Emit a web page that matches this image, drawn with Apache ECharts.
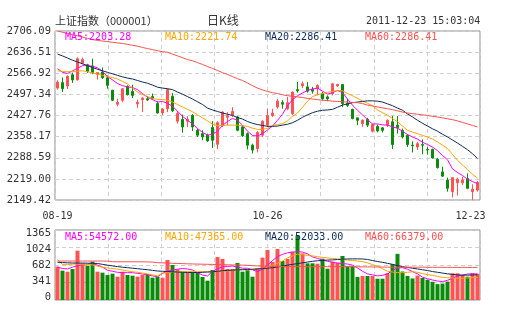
<!DOCTYPE html>
<html><head><meta charset="utf-8">
<script src="https://cdn.jsdelivr.net/npm/echarts@6/dist/echarts.min.js"></script>
<style>html,body{margin:0;padding:0;background:#fff}#c{width:505px;height:330px}</style>
</head><body><div id="c"></div>
<script>
const dates = ['08-19','08-22','08-23','08-24','08-25','08-26','08-29','08-30','08-31',
'09-01','09-02','09-05','09-06','09-07','09-08','09-09','09-13','09-14','09-15','09-16','09-19','09-20','09-21','09-22','09-23','09-26','09-27','09-28','09-29','09-30',
'10-10','10-11','10-12','10-13','10-14','10-17','10-18','10-19','10-20','10-21','10-24','10-25','10-26','10-27','10-28','10-31',
'11-01','11-02','11-03','11-04','11-07','11-08','11-09','11-10','11-11','11-14','11-15','11-16','11-17','11-18','11-21','11-22','11-23','11-24','11-25','11-28','11-29','11-30',
'12-01','12-02','12-05','12-06','12-07','12-08','12-09','12-12','12-13','12-14','12-15','12-16','12-19','12-20','12-21','12-22','12-23'];
const dateTicks = ['08-19','10-26','12-23'];
const opens  = [2518,2536,2525,2562,2545,2600,2595,2591,2563,2571,2552,2511,2465,2478,2524,2507,2466,2480,2483,2490,2467,2436,2450,2491,2409,2415,2409,2428,2379,2368,2363,2388,2333,2396,2422,2430,2423,2390,2368,2330,2319,2363,2396,2428,2456,2470,2450,2434,2513,2526,2522,2514,2516,2500,2489,2500,2525,2530,2468,2448,2420,2401,2415,2376,2392,2387,2396,2407,2396,2379,2363,2330,2324,2332,2316,2316,2284,2242,2215,2177,2206,2206,2220,2177,2182];
const closes = [2538,2516,2557,2545,2615,2612,2573,2569,2569,2552,2527,2478,2471,2516,2496,2494,2471,2485,2479,2483,2436,2449,2513,2443,2434,2390,2415,2390,2363,2357,2344,2346,2404,2439,2427,2441,2379,2361,2330,2314,2372,2409,2428,2436,2475,2465,2470,2505,2509,2532,2508,2508,2527,2483,2483,2532,2530,2467,2461,2418,2412,2412,2396,2398,2377,2379,2412,2332,2388,2357,2332,2328,2335,2330,2314,2288,2256,2228,2188,2223,2218,2215,2188,2185,2207];
const lows   = [2513,2505,2515,2535,2543,2597,2568,2564,2546,2548,2516,2475,2458,2472,2494,2485,2453,2439,2476,2480,2434,2429,2439,2439,2401,2371,2390,2377,2357,2346,2341,2321,2317,2390,2396,2423,2376,2357,2316,2303,2306,2357,2390,2423,2450,2450,2445,2429,2503,2518,2503,2500,2494,2478,2475,2494,2522,2456,2456,2415,2396,2390,2390,2372,2372,2372,2390,2317,2368,2352,2324,2306,2314,2300,2299,2286,2253,2226,2177,2158,2164,2199,2185,2149.42,2177];
const highs  = [2544,2553,2560,2569,2619,2619,2598,2615,2571,2586,2560,2512,2483,2516,2527,2529,2480,2489,2492,2500,2475,2452,2516,2502,2443,2431,2426,2432,2385,2379,2368,2409,2409,2442,2439,2455,2426,2396,2372,2335,2376,2412,2450,2450,2483,2478,2489,2507,2538,2540,2538,2522,2530,2505,2494,2535,2532,2532,2483,2450,2420,2415,2420,2401,2398,2390,2415,2426,2426,2385,2365,2343,2341,2349,2324,2319,2288,2259,2223,2225,2223,2226,2237,2201,2212];
const ma5  = [2582,2570,2566,2575,2583,2592,2592,2590,2585,2573,2556,2545,2533,2526,2522,2520,2513,2500,2488,2480,2472,2474,2468,2458,2442,2425,2412,2400,2385,2372,2363,2366,2376,2395,2408,2418,2412,2396,2376,2362,2360,2368,2380,2393,2412,2432,2460,2480,2493,2502,2510,2515,2518,2508,2498,2503,2510,2503,2482,2462,2445,2430,2414,2400,2400,2397,2396,2390,2386,2376,2365,2357,2350,2340,2332,2324,2312,2296,2282,2252,2240,2230,2218,2210,2203.28];
const ma10 = [2575,2573,2572,2572,2574,2575,2572,2568,2564,2560,2556,2553,2548,2540,2532,2518,2505,2497,2490,2484,2481,2480,2478,2472,2464,2456,2448,2440,2430,2420,2410,2399,2394,2395,2396,2396,2396,2394,2392,2386,2382,2382,2386,2395,2398,2401,2410,2425,2436,2455,2475,2490,2496,2500,2504,2507,2510,2509,2500,2493,2484,2476,2468,2460,2446,2437,2429,2418,2407,2393,2379,2373,2368,2362,2357,2350,2341,2330,2319,2300,2280,2265,2250,2234,2221.74];
const ma20 = [2630,2624,2617,2610,2604,2598,2592,2586,2580,2575,2570,2565,2560,2555,2551,2548,2543,2538,2534,2528,2521,2518,2516,2513,2505,2498,2490,2482,2473,2464,2452,2446,2441,2436,2432,2428,2421,2416,2408,2402,2398,2395,2392,2392,2393,2396,2399,2404,2412,2422,2430,2437,2442,2445,2446,2448,2455,2462,2466,2470,2472,2474,2476,2476,2475,2472,2466,2460,2452,2445,2433,2423,2412,2402,2393,2384,2376,2366,2357,2347,2337,2326,2315,2302,2286.41];
const ma60 = [2706,2702,2698,2694,2690,2686,2682,2678,2675,2673,2671,2669,2667,2665,2662,2659,2656,2652,2648,2645,2641,2638,2636,2630,2624,2618,2612,2608,2602,2596,2589,2583,2576,2569,2563,2556,2549,2543,2535,2526,2518,2512,2507,2503,2500,2496,2493,2491,2489,2487,2484,2482,2480,2478,2477,2475,2474,2473,2472,2471,2470,2467,2462,2459,2456,2453,2450,2447,2443,2439,2436,2434,2432,2430,2428,2425,2423,2420,2417,2414,2410,2405,2400,2395,2390];
const volumes = [650,572,552,604,962,715,670,748,552,533,488,513,455,552,488,474,455,488,507,435,455,435,780,682,598,540,540,540,533,449,377,585,838,800,604,604,721,552,580,455,618,826,975,745,995,760,800,940,1260,910,715,715,708,805,610,748,728,858,656,656,450,468,468,468,415,415,525,700,900,555,470,420,475,430,395,355,310,320,360,520,520,490,455,520,510];
const volMa5  = [640,615,605,640,670,685,700,715,680,640,580,560,540,533,533,533,520,507,490,470,455,520,560,585,600,615,605,585,530,487,468,560,610,645,655,663,640,620,618,590,553,600,680,770,845,890,920,935,943,935,900,840,810,780,755,735,720,710,702,680,625,560,510,490,470,480,507,580,625,630,600,555,510,445,415,390,370,358,385,420,468,485,507,510,510];
const volMa10 = [790,690,690,700,700,695,690,683,660,640,625,615,600,585,565,553,540,525,510,490,470,525,535,545,550,553,553,553,553,553,553,553,558,563,568,572,585,600,590,595,605,615,640,680,720,760,820,860,895,885,870,860,845,830,820,810,800,790,780,770,760,748,725,690,660,610,560,545,535,533,540,550,540,515,495,480,460,442,435,428,423,425,430,437,442];
const volMa20 = [735,730,725,722,720,720,718,716,712,695,680,665,650,640,630,620,610,600,590,578,565,560,555,550,545,540,538,536,535,540,545,550,560,570,578,582,586,590,595,600,605,612,620,630,645,660,680,695,710,725,740,755,765,772,778,782,790,795,800,802,802,800,790,770,750,735,715,695,670,650,635,620,605,590,575,555,540,525,510,500,490,485,485,488,490];
const volMa60 = [760,760,760,760,760,760,760,760,760,760,758,748,745,745,745,745,745,745,742,740,728,725,722,715,712,710,705,703,700,698,696,694,690,688,686,684,683,680,676,670,664,660,658,656,654,652,650,650,650,650,650,650,650,650,650,650,650,650,650,650,648,646,645,644,643,642,641,640,640,640,640,640,640,640,638,638,638,637,637,636,636,636,635,635,635];
const priceTicks = ['2706.09','2636.51','2566.92','2497.34','2427.76','2358.17','2288.59','2219.00','2149.42'];
const volTicks = ['0','341','682','1024','1365'];
const titleText = '上证指数（000001）';
const periodText = '日K线';
const timeText = '2011-12-23 15:03:04';
const mainLegend = ['MA5:2203.28','MA10:2221.74','MA20:2286.41','MA60:2286.41'];
const volLegend = ['MA5:54572.00','MA10:47365.00','MA20:52033.00','MA60:66379.00'];

const UP = '#ff5252', DOWN = '#0a8c0a';
const C5 = '#ff00ff', C10 = '#ffa500', C20 = '#0c2c58', C60 = '#ff4f4f';
const MONO = 'DejaVu Sans Mono';
const dash = {type:[4,3], color:'#cfcfcf', width:1};

const chart = echarts.init(document.getElementById('c'), null, {renderer:'canvas'});
const lineS = (name, data, color, xi, yi) => ({name, type:'line', data, xAxisIndex:xi, yAxisIndex:yi,
  symbol:'none', smooth:false, lineStyle:{color, width:1}, itemStyle:{color}, silent:true, animation:false, z:5});

const legendTexts = (arr, y) => arr.map((t, k) => ({type:'text', left: 65 + 100*k, top: y,
  style:{text:t, fill:[C5,C10,C20,C60][k], font:'10px "'+MONO+'"'}, z:20}));

chart.setOption({
  animation:false,
  backgroundColor:'#fff',
  grid:[
    {left:55, right:25, top:31, height:169, show:true, borderColor:'#8c8c8c', borderWidth:1, outerBoundsMode:'none', containLabel:false},
    {left:55, right:25, top:230, height:70, show:true, borderColor:'#8c8c8c', borderWidth:1, outerBoundsMode:'none', containLabel:false},
    {left:55, right:25, top:233, height:64, show:false, outerBoundsMode:'none', containLabel:false}
  ],
  xAxis:[
    {type:'category', gridIndex:0, data:dates, boundaryGap:true,
      axisLine:{show:false}, axisTick:{show:false}, splitLine:{show:false},
      axisLabel:{interval:(i, v) => dateTicks.includes(v), margin:11, color:'#333', fontFamily:MONO, fontSize:10,
        formatter:(v) => v === dateTicks[2] ? '{r|'+v+'}' : v,
        rich:{r:{padding:[0,14,0,0], fontFamily:MONO, fontSize:10, color:'#333'}}}},
    {type:'category', gridIndex:1, data:dates, boundaryGap:true, axisLine:{show:false}, axisTick:{show:false}, axisLabel:{show:false}},
    {type:'value', gridIndex:0, min:0, max:8, interval:1, axisLine:{show:false}, axisTick:{show:false}, axisLabel:{show:false}, splitLine:{show:true, lineStyle:dash}},
    {type:'value', gridIndex:1, min:0, max:8, interval:1, axisLine:{show:false}, axisTick:{show:false}, axisLabel:{show:false}, splitLine:{show:true, lineStyle:dash}},
    {type:'value', gridIndex:2, min:0, max:1, show:false}
  ],
  yAxis:[
    {type:'value', gridIndex:0, min:2149.42, max:2706.09, show:false, splitLine:{show:false}},
    {type:'value', gridIndex:0, position:'left', min:0, max:8, interval:1, axisLine:{show:false}, axisTick:{show:false},
      axisLabel:{formatter:(v) => priceTicks[8 - Math.round(v)], color:'#333', fontFamily:MONO, fontSize:10.5, margin:4},
      splitLine:{show:true, lineStyle:dash}},
    {type:'value', gridIndex:1, min:0, max:1365, interval:341.25, axisLine:{show:false}, axisTick:{show:false},
      axisLabel:{show:false}, splitLine:{show:true, lineStyle:dash}},
    {type:'value', gridIndex:2, position:'left', min:0, max:4, interval:1, axisLine:{show:false}, axisTick:{show:false}, splitLine:{show:false},
      axisLabel:{formatter:(v) => volTicks[Math.round(v)], color:'#333', fontFamily:MONO, fontSize:10.5, margin:4}}
  ],
  series:[
    {type:'candlestick', xAxisIndex:0, yAxisIndex:0, barWidth:3,
      data: opens.map((o, i) => [o, closes[i], lows[i], highs[i]]),
      itemStyle:{color:UP, color0:DOWN, borderColor:UP, borderColor0:DOWN, borderWidth:1}, z:3, silent:true},
    lineS('MA5', ma5, C5, 0, 0), lineS('MA10', ma10, C10, 0, 0), lineS('MA20', ma20, C20, 0, 0), lineS('MA60', ma60, C60, 0, 0),
    {type:'bar', xAxisIndex:1, yAxisIndex:2, barWidth:4, silent:true, z:3,
      data: volumes.map((v, i) => ({value:v, itemStyle:{color: closes[i] >= opens[i] ? UP : DOWN}}))},
    lineS('VMA5', volMa5, C5, 1, 2), lineS('VMA10', volMa10, C10, 1, 2), lineS('VMA20', volMa20, C20, 1, 2), lineS('VMA60', volMa60, C60, 1, 2)
  ],
  graphic:[
    {type:'text', left:55, top:15, style:{text:titleText, fill:'#333', font:'11px "Noto Sans CJK SC"'}},
    {type:'text', left:207, top:14, style:{text:periodText, fill:'#333', font:'12px "Noto Sans CJK SC"'}},
    {type:'text', left:366, top:16, style:{text:timeText, fill:'#333', font:'10px "'+MONO+'"'}},
    ...legendTexts(mainLegend, 32),
    ...legendTexts(volLegend, 232)
  ]
});
</script></body></html>
